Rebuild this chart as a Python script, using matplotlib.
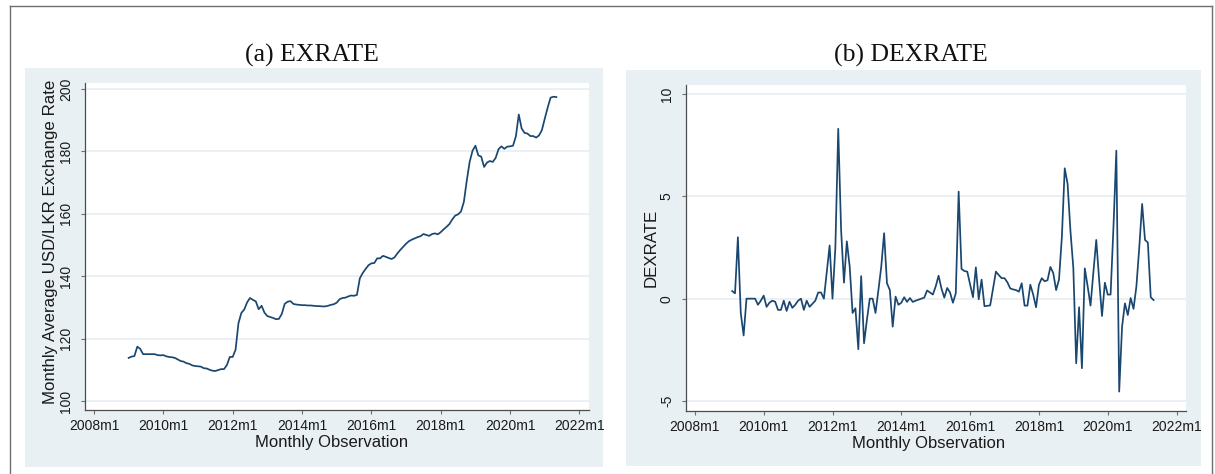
import numpy as np
import pandas as pd
import matplotlib
matplotlib.use("Agg")
import matplotlib.pyplot as plt
from matplotlib.patches import Rectangle
from matplotlib.lines import Line2D

plt.rcParams['font.family'] = ['Liberation Sans', 'DejaVu Sans']

# Monthly average USD/LKR exchange rate, 2009m1 - 2021m5
exrate = [
    113.8, 114.2, 114.4, 117.4, 116.7, 115.0, 115.0, 115.0, 115.0, 115.0, 114.7, 114.6,   # 2009
    114.7, 114.3, 114.1, 114.0, 113.8, 113.3, 112.8, 112.6, 112.1, 111.9, 111.4, 111.2,   # 2010
    111.1, 111.0, 110.5, 110.4, 110.0, 109.7, 109.6, 109.9, 110.2, 110.2, 111.5, 114.1,   # 2011
    114.1, 116.4, 124.9, 128.2, 129.3, 131.6, 133.0, 132.4, 131.9, 129.4, 130.5, 128.3,   # 2012
    127.2, 126.9, 126.6, 126.2, 126.3, 127.9, 131.1, 131.8, 132.0, 131.1, 130.9, 130.8,   # 2013
    130.7, 130.7, 130.6, 130.6, 130.5, 130.4, 130.4, 130.3, 130.3, 130.5, 130.8, 131.0,   # 2014
    131.5, 132.6, 133.0, 133.1, 133.5, 133.8, 133.7, 134.0, 139.3, 141.0, 142.3, 143.5,   # 2015
    144.1, 144.2, 145.7, 145.7, 146.5, 146.2, 145.8, 145.5, 146.0, 147.3, 148.4, 149.4,   # 2016
    150.4, 151.2, 151.7, 152.1, 152.5, 152.8, 153.5, 153.2, 152.9, 153.5, 153.7, 153.4,   # 2017
    154.1, 155.0, 155.8, 156.7, 158.2, 159.4, 159.8, 160.7, 163.8, 170.6, 176.6, 180.2,   # 2018
    181.8, 178.7, 178.3, 175.0, 176.4, 176.9, 176.6, 177.9, 180.7, 181.6, 180.8, 181.5,   # 2019
    181.6, 181.8, 184.8, 191.8, 187.3, 185.9, 185.7, 184.9, 184.9, 184.4, 185.1, 186.8,   # 2020
    190.5, 194.0, 197.2, 197.5, 197.4,                                                   # 2021
]

# Monthly change in the exchange rate, 2009m2 - 2021m5
dexrate = [
    0.37, 0.26, 3.0, -0.7, -1.8, 0.0, 0.0, 0.0, 0.0, -0.3, -0.1,                          # 2009
    0.15, -0.4, -0.2, -0.1, -0.15, -0.55, -0.55, -0.1, -0.6, -0.15, -0.45, -0.3,          # 2010
    -0.1, 0.0, -0.55, -0.1, -0.4, -0.25, -0.1, 0.3, 0.3, 0.0, 1.3, 2.6,                  # 2011
    0.0, 2.5, 8.3, 3.36, 0.78, 2.8, 1.56, -0.7, -0.47, -2.47, 1.1, -2.18,                 # 2012
    -1.04, 0.0, 0.0, -0.7, 0.4, 1.56, 3.2, 0.75, 0.42, -1.37, 0.1, -0.3,                  # 2013
    -0.2, 0.07, -0.16, 0.03, -0.16, -0.1, -0.05, 0.0, 0.05, 0.4, 0.3, 0.2,                # 2014
    0.6, 1.12, 0.5, 0.05, 0.52, 0.3, -0.2, 0.26, 5.23, 1.45, 1.35, 1.32,                  # 2015
    0.7, 0.07, 1.53, -0.03, 0.93, -0.37, -0.35, -0.33, 0.5, 1.32, 1.15, 1.0,              # 2016
    1.0, 0.8, 0.5, 0.45, 0.42, 0.34, 0.75, -0.34, -0.34, 0.68, 0.2, -0.42,                # 2017
    0.68, 1.0, 0.85, 0.9, 1.55, 1.25, 0.42, 0.93, 3.0, 6.37, 5.6, 3.3,                    # 2018
    1.5, -3.16, -0.42, -3.4, 1.48, 0.6, -0.34, 1.3, 2.87, 0.93, -0.85, 0.78,              # 2019
    0.2, 0.2, 3.5, 7.23, -4.54, -1.37, -0.23, -0.8, 0.03, -0.5, 0.6, 2.5,                 # 2020
    4.63, 2.87, 2.74, 0.07, -0.07,                                                         # 2021
]

ex_months = pd.period_range("2009-01", periods=len(exrate), freq="M")
dex_months = pd.period_range("2009-02", periods=len(dexrate), freq="M")

tick_years = [2008, 2010, 2012, 2014, 2016, 2018, 2020, 2022]
tick_labels = [f"{y}m1" for y in tick_years]

titles = ["(a) EXRATE", "(b) DEXRATE"]
ylabels = ["Monthly Average USD/LKR Exchange Rate", "DEXRATE"]
xlabel = "Monthly Observation"
ex_yticks = [100, 120, 140, 160, 180, 200]
dex_yticks = [-5, 0, 5, 10]


def month_index(periods):
    # months elapsed since 2008m1
    return np.array([(p.year - 2008) * 12 + p.month - 1 for p in periods])


W, H = 1215, 474
fig = plt.figure(figsize=(W / 100, H / 100), dpi=100)
fig.patch.set_facecolor("white")

LINE = "#1a476f"
REGION = "#e8f0f3"
GRID = "#e6eef1"
AXIS = "#4d4d4d"


def px_rect(x0, y0, x1, y1):
    return [x0 / W, 1 - y1 / H, (x1 - x0) / W, (y1 - y0) / H]


# outer frame
for xs, ys in [((10, 10), (6, 474)), ((10, 1212), (6, 6)), ((1212, 1212), (6, 474))]:
    fig.add_artist(Line2D([x / W for x in xs], [1 - y / H for y in ys],
                          color="#6e6e6e", lw=1.0))

# graph regions
for (x0, y0, x1, y1) in [(25, 68, 603, 467), (626, 70, 1201, 466)]:
    fig.add_artist(Rectangle((x0 / W, 1 - y1 / H), (x1 - x0) / W, (y1 - y0) / H,
                             transform=fig.transFigure, facecolor=REGION,
                             edgecolor="none", zorder=0))

ax1 = fig.add_axes(px_rect(85, 83, 589, 410))
ax2 = fig.add_axes(px_rect(686, 85, 1186, 411))

panels = [
    (ax1, month_index(ex_months), exrate, ex_yticks, (97.1, 201.9), 0.515, 0.489),
    (ax2, month_index(dex_months), dexrate, dex_yticks, (-5.49, 10.44), 0.5, 0.486),
]

for i, (ax, x, y, yt, ylim, ylab_y, xlab_x) in enumerate(panels):
    ax.set_facecolor("white")
    ax.set_zorder(2)
    for yv in yt:
        ax.axhline(yv, color=GRID, lw=1.2, zorder=1)
    ax.plot(x, y, color=LINE, lw=1.25, zorder=3)
    ax.set_xlim(-3.1, 171.3)
    ax.set_ylim(*ylim)
    ax.set_xticks([(yr - 2008) * 12 for yr in tick_years])
    ax.set_xticklabels(tick_labels)
    ax.set_yticks(yt)
    ax.set_yticklabels([str(v) for v in yt], rotation=90, va="center")
    for s in ["top", "right"]:
        ax.spines[s].set_visible(False)
    for s in ["left", "bottom"]:
        ax.spines[s].set_color(AXIS)
        ax.spines[s].set_linewidth(0.9)
    ax.tick_params(axis="both", direction="out", length=3.2, width=0.8,
                   color="#6e6e6e", labelsize=10, labelcolor="#1a1a1a")
    ax.tick_params(axis="x", pad=3)
    ax.tick_params(axis="y", pad=5.5)
    ax.set_xlabel(xlabel, fontsize=12, color="#1a1a1a")
    ax.xaxis.set_label_coords(xlab_x, -0.077)
    ax.set_ylabel(ylabels[i], fontsize=12.2, color="#1a1a1a")
    ax.yaxis.set_label_coords(-0.054, ylab_y)

fig.text(312 / W, 1 - 55 / H, titles[0], ha="center", va="center",
         fontsize=18.5, family=["Liberation Serif", "DejaVu Serif"], color="#111111")
fig.text(911 / W, 1 - 55 / H, titles[1], ha="center", va="center",
         fontsize=18.5, family=["Liberation Serif", "DejaVu Serif"], color="#111111")

fig.savefig("out.png", dpi=100, facecolor="white")
